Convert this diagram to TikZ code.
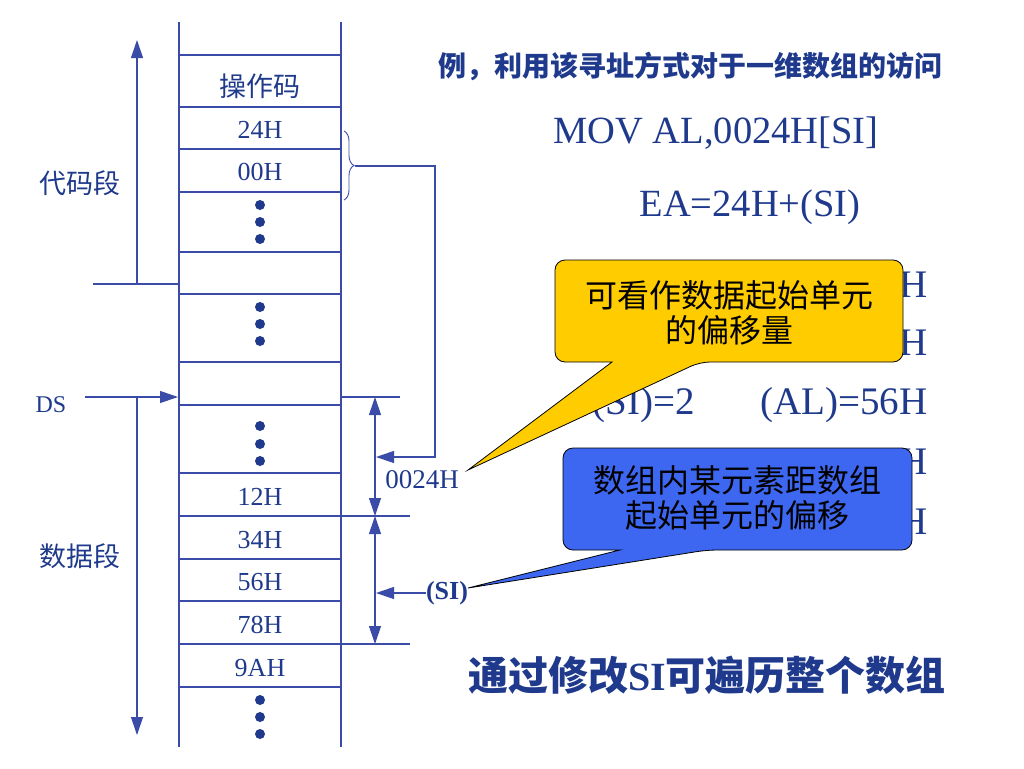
\documentclass[tikz,border=0pt]{standalone}
\usepackage{fontspec}
\setmainfont{Liberation Serif}
\newfontfamily\cjk{Noto Sans CJK SC}
\usetikzlibrary{arrows.meta,decorations.pathreplacing}
\definecolor{navy}{HTML}{1F3A8C}
\definecolor{linecol}{HTML}{3A4CA8}
\definecolor{notegold}{HTML}{FFCC00}
\definecolor{noteblue}{HTML}{3D67F0}
\newcommand{\fs}[1]{\fontsize{#1}{#1}\selectfont}

\begin{document}
\begin{tikzpicture}[x=1pt,y=-1pt,line width=1.1pt]
  \tikzstyle{wire}=[draw=linecol,line width=1.1pt]
  \tikzstyle{arr}=[wire,-{Triangle[length=18pt,width=12pt]}]
  \tikzstyle{dbl}=[wire,{Triangle[length=18pt,width=12pt]}-{Triangle[length=18pt,width=12pt]}]
  \tikzstyle{cell}=[inner sep=0pt,text=navy,font=\fs{26}]
  \tikzstyle{side}=[inner sep=0pt,text=navy,font=\cjk\fs{27}]
  \tikzstyle{big}=[inner sep=0pt,text=navy,font=\fs{38.5}]
  \tikzstyle{row}=[inner sep=0pt,text=navy,font=\fs{39}]
  \tikzstyle{note}=[inner sep=0pt,text=black,align=center,
                    font=\cjk\fontsize{32}{35}\selectfont]
  \tikzstyle{balloon}=[draw=black,line width=0.8pt]

  \useasboundingbox (0,0) rectangle (1024,768);

  % memory column
  \draw[wire] (179,22) -- (179,747) (341,22) -- (341,747);
  \foreach \y in {55,107,149,192,252,294,362,405,473,516,559,601,644,687}
    \draw[wire] (179,\y) -- (341,\y);
  \foreach \y in {205,222,239,307,324,341,426,444,461,700,717,734}
    \fill[navy] (260,\y) circle (5);

  \node[side] (opc) at (260,86)  {操作码};
  \node[cell] (c24) at (260,130) {24H};
  \node[cell] (c00) at (260,172) {00H};
  \node[cell] (c12) at (260,497) {12H};
  \node[cell] (c34) at (260,540) {34H};
  \node[cell] (c56) at (260,582) {56H};
  \node[cell] (c78) at (260,625) {78H};
  \node[cell] (c9a) at (260,668) {9AH};

  % segments on the left
  \node[side] (code) at (80,183) {代码段};
  \node[side] (data) at (80,556) {数据段};
  \node[cell,font=\fs{24}] (ds) at (51,405) {DS};
  \coordinate (cstop) at (137,40);
  \coordinate (csend) at (137,284);
  \coordinate (dsin)  at (85,397);
  \coordinate (dsend) at (137,735);
  \draw[wire] (93,284) -- (179,284);
  \draw[arr] (csend) -- (cstop);
  \draw[arr] (dsin) -- (178,397);
  \draw[arr] (137,397) -- (dsend);

  % offsets on the right
  \draw[wire] (341,397) -- (400,397);
  \draw[wire] (341,516) -- (410,516);
  \draw[wire] (341,644) -- (410,644);
  \coordinate (d0) at (375,397);
  \coordinate (d1) at (375,516);
  \coordinate (d2) at (375,644);
  \draw[dbl] (d0) -- (d1);
  \draw[dbl] (d1) -- (d2);

  \draw[wire,line width=0.9pt,decorate,decoration={brace,amplitude=10pt}]
    (344,131) -- (344,200);
  \coordinate (btip) at (355,166);
  \draw[arr] (btip) -- (435,166) -- (435,457) -- (376,457);

  \node[cell,font=\fs{27}] (off) at (422,480) {0024H};
  \node[cell,font=\bfseries\fs{26}] (si) at (447,593) {(SI)};
  \draw[arr] (si) -- (376,593);

  % text on the right
  \node[inner sep=0pt,text=navy,font=\cjk\bfseries\fs{28}] (title) at (690,66)
    {例，利用该寻址方式对于一维数组的访问};
  \node[big] (mov) at (716,133) {MOV AL,0024H[SI]};
  \node[big] (ea)  at (750,207) {EA=24H+(SI)};
  \node[row,anchor=east] (r1) at (928,285) {H};
  \node[row,anchor=east] (r2) at (928,343) {H};
  \node[row,anchor=west] (r3) at (592,405) {(SI)=2};
  \node[row,anchor=east] (r3b) at (928,405) {(AL)=56H};
  \node[row,anchor=east] (r4) at (928,462) {H};
  \node[row,anchor=east] (r5) at (928,522) {H};

  % balloons
  \filldraw[balloon,fill=notegold] (729,260) [rounded corners=10pt]
    -- (903,260) -- (903,362) -- (700,362) [sharp corners] -- (468,470)
    -- (612,362) [rounded corners=10pt] -- (555,362) -- (555,260) -- cycle;
  \node[note] (gnote) at (729,313) {可看作数据起始单元\\的偏移量};

  \filldraw[balloon,fill=noteblue] (737,448) [rounded corners=10pt]
    -- (912,448) -- (912,550) -- (707,550) [sharp corners] -- (468,588)
    -- (620,550) [rounded corners=10pt] -- (563,550) -- (563,448) -- cycle;
  \node[note] (bnote) at (737,498) {数组内某元素距数组\\起始单元的偏移};

  \node[inner sep=0pt,text=navy,font=\bfseries\fs{40}] (tip) at (707,675)
    {{\cjk 通过修改}SI{\cjk 可遍历整个数组}};
\end{tikzpicture}
\end{document}
